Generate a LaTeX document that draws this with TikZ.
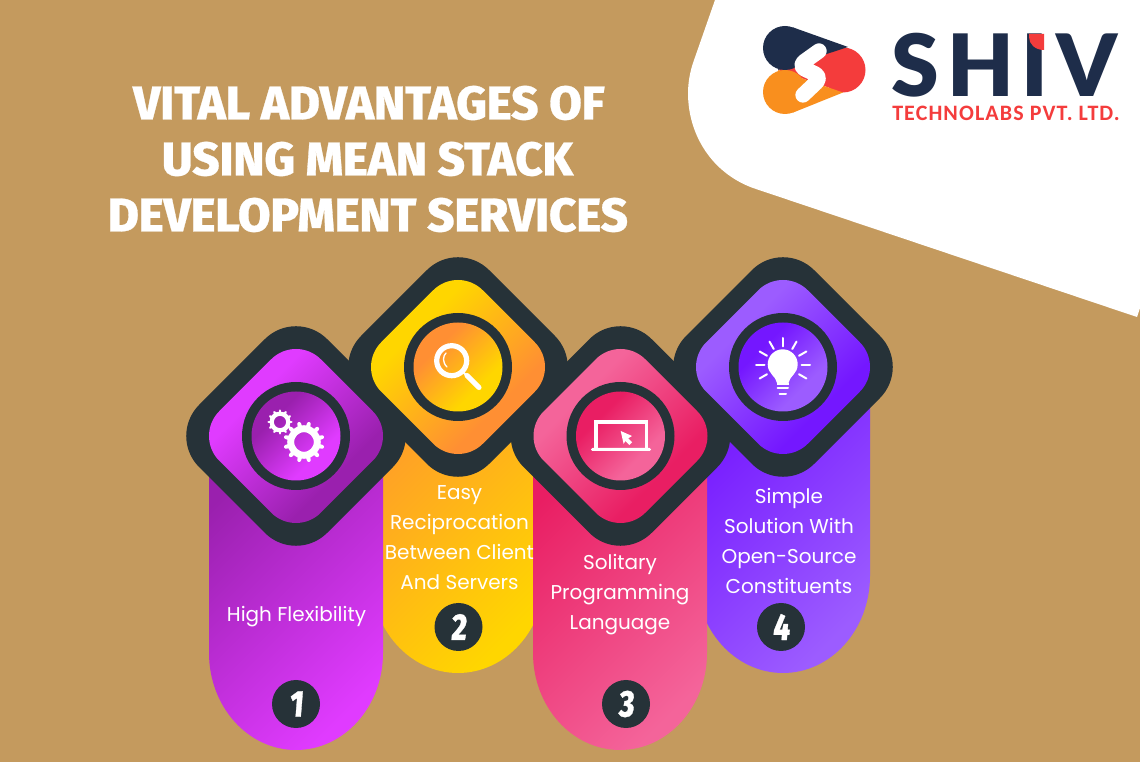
\documentclass[tikz,border=0pt]{standalone}
\usepackage{fontspec}
\setmainfont{Poppins}
\newfontfamily\titlefont[FakeBold=0.6]{Fira Sans ExtraBold}
\newfontfamily\numfont[FakeBold=0.8,FakeStretch=0.78,FakeSlant=0.08]{Fira Sans ExtraBold}
\newfontfamily\shivfont[LetterSpace=9]{Lato Black}
\newfontfamily\techfont[LetterSpace=5]{Carlito Bold}
\definecolor{bg}{HTML}{C49A5E}
\definecolor{ink}{HTML}{263238}
\definecolor{navy}{HTML}{1E2D4A}
\definecolor{lred}{HTML}{F43C3C}
\definecolor{lorange}{HTML}{F98F1E}
\definecolor{purA}{HTML}{9A20AE}
\definecolor{purB}{HTML}{E03BFF}
\definecolor{yelA}{HTML}{FF8F33}
\definecolor{yelB}{HTML}{FFD600}
\definecolor{pnkA}{HTML}{E91E63}
\definecolor{pnkB}{HTML}{F4649A}
\definecolor{vioA}{HTML}{7417FF}
\definecolor{vioB}{HTML}{9C5CFF}
\newcommand{\mkshade}[3]{%
  \pgfdeclareverticalshading{d#1}{100bp}{color(0bp)=(#3);color(36bp)=(#3);color(64bp)=(#2);color(100bp)=(#2)}%
  \pgfdeclareverticalshading{c#1}{100bp}{color(0bp)=(#2);color(34bp)=(#2);color(66bp)=(#3);color(100bp)=(#3)}%
}
\mkshade{pur}{purB}{purA}
\mkshade{yel}{yelB}{yelA}
\mkshade{pnk}{pnkB}{pnkA}
\mkshade{vio}{vioB}{vioA}
\tikzset{
  x=0.75pt,y=-0.75pt,
  grad/.style 2 args={top color=#1,bottom color=#2,shading angle=45},
  ttl/.style={text=white,font=\titlefont\fontsize{35.4pt}{40pt}\selectfont,inner sep=0pt},
  body/.style={text=white,font=\fontsize{15pt}{22.5pt}\selectfont,align=center,inner sep=0pt},
  numdot/.style={circle,fill=ink,minimum size=36pt,inner sep=0pt,text=white,font=\numfont\fontsize{28pt}{28pt}\selectfont},
  icon/.style={white,line cap=round,line join=round},
}
\newcommand{\badge}[3]{%
  \fill[ink,rounded corners=33pt] ({#1},{#2-128}) -- ({#1+128},{#2}) -- ({#1},{#2+128}) -- ({#1-128},{#2}) -- cycle;
  \path[shade,shading=d#3,shading angle=45,rounded corners=26.25pt] ({#1},{#2-101.5}) -- ({#1+101.5},{#2}) -- ({#1},{#2+101.5}) -- ({#1-101.5},{#2}) -- cycle;
  \fill[ink] (#1,#2) circle[radius=54];
  \path[shade,shading=c#3,shading angle=45] (#1,#2) circle[radius=44.5];
}
\newcommand{\pill}[6]{%
  \path[grad={#5}{#6}] ({#1-87},{#4}) -- ({#1+87},{#4}) -- ({#1+87},{#2}) .. controls ({#1+87},{#2+53.6}) and ({#1+48},{#3}) .. ({#1},{#3}) .. controls ({#1-48},{#3}) and ({#1-87},{#2+53.6}) .. ({#1-87},{#2}) -- cycle;
}
\begin{document}
\begin{tikzpicture}
\useasboundingbox (0,0) rectangle (1140,762);
\fill[bg] (0,0) rectangle (1140,762);
% white corner
\fill[white] (715,0) -- (1140,0) -- (1140,308) -- (1137,317) -- (753,188) .. controls (712,173) and (688,135) .. (688,93) .. controls (688,83) and (690,72) .. (693,63) -- cycle;
% logo mark
\fill[lred] (843,70) circle[radius=22.5];
\fill[lred] (778,70) -- (845,47.5) -- (843,92.5) -- cycle;
\fill[lorange] (785,92) circle[radius=22];
\fill[lorange] (778,70) -- (843,92.5) -- (793,112.6) -- cycle;
\fill[navy] (785,48) circle[radius=22];
\fill[navy] (778,70) -- (793,27.4) -- (848,47) -- cycle;
\draw[white,line width=11.5pt,line cap=round,line join=round,rounded corners=6pt] (819,51) -- (798,66) -- (822,77) -- (803,95);
% logo text
\node[anchor=base west,inner sep=0pt,text=navy,font=\shivfont\fontsize{64.5pt}{64.5pt}\selectfont] (shiv) at (891.5,96.5) {SHIV};
\fill[lred] (1029,34) -- (1044,34) -- (1044,50) .. controls (1035,50) and (1029,44) .. (1029,37) -- cycle;
\node[anchor=base west,inner sep=0pt,text=lred,font=\techfont\fontsize{16.5pt}{16.5pt}\selectfont] (tech) at (892,121) {TECHNOLABS PVT. LTD.};
% title
\node[ttl] (t1) at (369,103) {VITAL ADVANTAGES OF};
\node[ttl] (t2) at (367.5,159) {USING MEAN STACK};
\node[ttl] (t3) at (368,215) {DEVELOPMENT SERVICES};
% pills
\pill{458}{576}{673}{367}{yelA!85!yelB}{yelB}
\pill{783}{576}{673}{367}{vioA}{vioB}
\pill{296}{653}{750}{436}{purA}{purB}
\pill{620}{653}{750}{436}{pnkA}{pnkB}
% badges
\badge{296}{436}{pur}
\badge{458}{367}{yel}
\badge{620.5}{436}{pnk}
\badge{783}{367}{vio}
% gears
\draw[white,line width=5.2pt] (304,442) circle[radius=13.3];
\foreach \a in {0,30,...,330}
  \draw[white,line width=3pt,line cap=round] (304,442) ++(\a+15:15) -- ++(\a+15:3.6);
\draw[white,line width=3.2pt] (280,422) circle[radius=8.3];
\foreach \a in {0,30,...,330}
  \draw[white,line width=1.8pt,line cap=round] (280,422) ++(\a:9) -- ++(\a:2.4);
% magnifier
\draw[white,line width=3.9pt] (451.7,360.7) circle[radius=15];
\draw[white,line width=1pt,line cap=round] (447,367) .. controls (442,362) and (443,356) .. (446,353);
\draw[white,line width=1.5pt] (463,372) -- (468,377);
\draw[icon,line width=3.8pt] (467,375.5) -- (479,387.5);
% laptop
\draw[icon,line width=2.4pt,line cap=butt,line join=miter] (596,449) -- (596,422) -- (646.5,422) -- (646.5,449);
\fill[white,rounded corners=1pt] (591,448) rectangle (651,451);
\fill[white] (620.7,431) -- (632,436) -- (628.2,438.3) -- (632.2,442.3) -- (629.4,445) -- (625.4,441) -- (623.6,443.8) -- cycle;
% bulb
\fill[white] (777,383) .. controls (776,376) and (767.7,374) .. (767.7,364.3) .. controls (767.7,356) and (774.5,349.3) .. (782.7,349.3) .. controls (791,349.3) and (797.7,356) .. (797.7,364.3) .. controls (797.7,374) and (789.5,376) .. (788.5,383) -- cycle;
\draw[white,line width=1.5pt,line cap=round] (777.5,388) -- (788,388) (779.5,394) -- (786,394);
\draw[white,line width=1.5pt] (777,384.5) -- (788.5,384.5);
\foreach \a in {0,-30,-60,-90,-120,-150,-180,-210,30}
  \draw[white,line width=1.5pt,line cap=round] (783,365) ++(\a:18.5) -- ++(\a:8.5);
% labels
\node[body] (l1) at (296.5,617) {High Flexibility};
\node[body] (l2) at (459.5,538) {Easy\\Reciprocation\\Between Client\\And Servers};
\node[body] (l3) at (620,595) {Solitary\\Programming\\Language};
\node[body] (l4) at (789,541) {Simple\\Solution With\\Open-Source\\Constituents};
% numbers
\node[numdot] (n1) at (296,704) {1};
\node[numdot] (n2) at (458.5,627) {2};
\node[numdot] (n3) at (626,704) {3};
\node[numdot] (n4) at (781,627) {4};
\end{tikzpicture}
\end{document}
